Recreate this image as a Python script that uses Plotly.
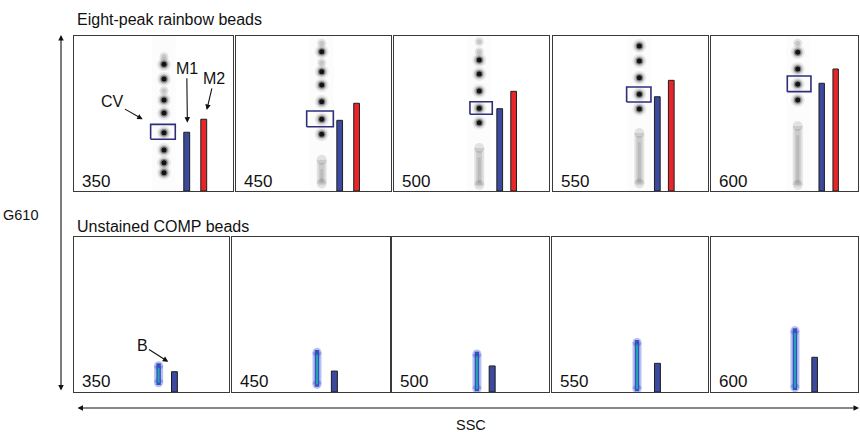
import plotly.graph_objects as go

# ---------------- data (panel-relative units: 0-100 on both axes) ----------------
panel_labels = ["350", "450", "500", "550", "600"]

# Top row: eight-peak rainbow beads
top_col_x = [56.6, 55.3, 55.0, 55.7, 59.0]
top_peaks = [
    [81.7, 72.3, 58.7, 50.3, 37.6, 26.5, 18.3, 11.8],
    [89.9, 77.0, 68.4, 57.6, 46.3, 36.6],
    [84.5, 75.5, 64.5, 53.4, 44.1],
    [93.5, 83.9, 73.1, 62.4, 52.9],
    [89.5, 78.7, 68.8, 58.7],
]
top_faint = [[86.6, 64.7], [95.3, 82.8], [96.3, 89.9], [], [95.3]]
top_smear_lo = [None, 2.8, 1.9, 2.8, 1.9]
top_smear_hi = [None, 22.1, 29.7, 39.4, 43.9]

cv_x0 = [48.2, 45.6, 49.0, 47.5, 51.9]
cv_x1 = [63.7, 62.8, 63.4, 63.2, 68.0]
cv_y0 = [33.4, 41.5, 49.5, 57.4, 64.1]
cv_y1 = [43.0, 51.6, 57.6, 67.1, 74.2]

m1_x = [70.9, 66.9, 68.2, 67.3, 75.3]
m1_val = [37.9, 45.6, 53.1, 60.8, 69.5]
m2_x = [81.6, 77.8, 77.2, 76.3, 84.8]
m2_val = [46.3, 56.6, 64.3, 71.4, 78.7]

# Bottom row: unstained COMP beads
comp_x = [54.6, 53.8, 54.1, 54.5, 57.1]
comp_lo = [4.5, 3.4, 0.5, 0.5, 1.3]
comp_hi = [18.5, 27.1, 26.0, 33.5, 41.1]
b_x = [64.8, 64.8, 63.8, 67.6, 70.5]
b_val = [13.1, 13.5, 16.8, 18.5, 22.4]

# ---------------- layout geometry (pixels) ----------------
W, H = 860, 432
top_dom = [(74, 233), (236, 391), (394, 549), (553, 708), (711, 858)]
bot_dom = [(74, 229), (232, 390), (392, 549), (552, 708), (711, 858)]
top_y = (36, 191)
bot_y = (237, 392)

FONT = "Liberation Sans, Arial, Helvetica, sans-serif"
BLUE = "#3b4a9e"
RED = "#e8262a"
NAVY = "#2e2e7c"


def px(x):
    return x / W


def py(y):
    return 1 - y / H


fig = go.Figure()
layout = {}


def add_axes(idx, xd, yd):
    sfx = "" if idx == 1 else str(idx)
    common = dict(range=[0, 100], showgrid=False, zeroline=False, showticklabels=False,
                  ticks="", showline=True, mirror=True, linecolor="#3a3a3a",
                  linewidth=1.4, fixedrange=True)
    layout["xaxis" + sfx] = dict(domain=[px(xd[0]), px(xd[1])], anchor="y" + sfx, **common)
    layout["yaxis" + sfx] = dict(domain=[py(yd[1]), py(yd[0])], anchor="x" + sfx, **common)
    return "x" + sfx, "y" + sfx


def line_trace(xa, ya, x, y, color, width):
    return go.Scatter(x=x, y=y, mode="lines", xaxis=xa, yaxis=ya,
                      line=dict(color=color, width=width), hoverinfo="skip", showlegend=False)


def dot_trace(xa, ya, x, y, color, size):
    return go.Scatter(x=x, y=y, mode="markers", xaxis=xa, yaxis=ya,
                      marker=dict(color=color, size=size, line=dict(width=0)),
                      hoverinfo="skip", showlegend=False)


annotations = []

for i in range(5):
    # ---------- top panel ----------
    xa, ya = add_axes(i + 1, top_dom[i], top_y)
    cx = top_col_x[i]
    # very faint background column
    fig.add_trace(line_trace(xa, ya, [cx, cx], [0, 100], "rgba(0,0,0,0.012)", 24))
    if top_smear_lo[i] is not None:
        lo, hi = top_smear_lo[i], top_smear_hi[i]
        fig.add_trace(line_trace(xa, ya, [cx, cx], [lo + 2, hi - 2], "rgba(0,0,0,0.10)", 10))
        fig.add_trace(dot_trace(xa, ya, [cx, cx], [lo + 2, hi - 2], "rgba(0,0,0,0.10)", 10))
        fig.add_trace(line_trace(xa, ya, [cx, cx], [lo + 1, hi - 4], "rgba(0,0,0,0.10)", 6))
        fig.add_trace(line_trace(xa, ya, [cx, cx], [lo + 3, hi - 8], "rgba(0,0,0,0.08)", 3))
    if top_faint[i]:
        fig.add_trace(dot_trace(xa, ya, [cx] * len(top_faint[i]), top_faint[i], "rgba(0,0,0,0.10)", 9))
        fig.add_trace(dot_trace(xa, ya, [cx] * len(top_faint[i]), top_faint[i], "rgba(0,0,0,0.12)", 5))
    n = len(top_peaks[i])
    for size, col in [(14, "rgba(0,0,0,0.07)"), (10.5, "rgba(0,0,0,0.14)"),
                      (7.5, "rgba(0,0,0,0.35)"), (5, "rgba(0,0,0,0.85)")]:
        fig.add_trace(dot_trace(xa, ya, [cx] * n, top_peaks[i], col, size))
    # CV box
    fig.add_trace(line_trace(xa, ya, [cv_x0[i], cv_x1[i], cv_x1[i], cv_x0[i], cv_x0[i]],
                             [cv_y0[i], cv_y0[i], cv_y1[i], cv_y1[i], cv_y0[i]], NAVY, 1.6))
    # M1 / M2 bars
    fig.add_trace(go.Bar(x=[m1_x[i]], y=[m1_val[i]], width=3.7, xaxis=xa, yaxis=ya,
                         marker=dict(color=BLUE, line=dict(color="#1e1e1e", width=1)),
                         hoverinfo="skip", showlegend=False))
    fig.add_trace(go.Bar(x=[m2_x[i]], y=[m2_val[i]], width=3.7, xaxis=xa, yaxis=ya,
                         marker=dict(color=RED, line=dict(color="#1e1e1e", width=1)),
                         hoverinfo="skip", showlegend=False))
    annotations.append(dict(x=px(top_dom[i][0] + 6), y=py(181.5), xref="paper", yref="paper",
                            text=panel_labels[i], showarrow=False, xanchor="left", yanchor="middle",
                            font=dict(size=17, color="#111", family=FONT)))

    # ---------- bottom panel ----------
    xb, yb = add_axes(i + 6, bot_dom[i], bot_y)
    bx = comp_x[i]
    lo, hi = comp_lo[i], comp_hi[i]
    fig.add_trace(line_trace(xb, yb, [bx, bx], [lo + 1.5, hi - 1.5], "rgba(70,90,215,0.38)", 9))
    fig.add_trace(dot_trace(xb, yb, [bx, bx], [lo + 1.5, hi - 1.5], "rgba(70,90,215,0.38)", 9))
    fig.add_trace(line_trace(xb, yb, [bx, bx], [lo, hi], "#3550c0", 4.5))
    fig.add_trace(line_trace(xb, yb, [bx, bx], [lo + 1.5, hi - 3], "#22a3b0", 2))
    fig.add_trace(go.Bar(x=[b_x[i]], y=[b_val[i]], width=3.8, xaxis=xb, yaxis=yb,
                         marker=dict(color=BLUE, line=dict(color="#1e1e1e", width=1)),
                         hoverinfo="skip", showlegend=False))
    annotations.append(dict(x=px(bot_dom[i][0] + 6), y=py(381.5), xref="paper", yref="paper",
                            text=panel_labels[i], showarrow=False, xanchor="left", yanchor="middle",
                            font=dict(size=17, color="#111", family=FONT)))

# callouts in the first panels
arrow_style = dict(showarrow=True, arrowhead=2, arrowsize=1, arrowwidth=1.1, arrowcolor="#111",
                   font=dict(size=16, color="#111", family=FONT), standoff=0)
annotations += [
    dict(x=43.2, y=46.3, ax=23.9, ay=57.6, xref="x", yref="y", axref="x", ayref="y", text="CV", **arrow_style),
    dict(x=71.3, y=44.1, ax=70.9, ay=79.2, xref="x", yref="y", axref="x", ayref="y", text="M1", **arrow_style),
    dict(x=83.5, y=52.3, ax=88.2, ay=72.7, xref="x", yref="y", axref="x", ayref="y", text="M2", **arrow_style),
    dict(x=60.8, y=19.5, ax=43.9, ay=30.3, xref="x6", yref="y6", axref="x6", ayref="y6", text="B", **arrow_style),
]

# row titles and axis labels
annotations += [
    dict(x=px(75), y=py(20), xref="paper", yref="paper", text="Eight-peak rainbow beads",
         showarrow=False, xanchor="left", yanchor="middle", font=dict(size=16, color="#111", family=FONT)),
    dict(x=px(75), y=py(226), xref="paper", yref="paper", text="Unstained COMP beads",
         showarrow=False, xanchor="left", yanchor="middle", font=dict(size=16, color="#111", family=FONT)),
    dict(x=px(20), y=py(215), xref="paper", yref="paper", text="G610",
         showarrow=False, xanchor="center", yanchor="middle", font=dict(size=14.5, color="#111", family=FONT)),
    dict(x=px(471), y=py(425), xref="paper", yref="paper", text="SSC",
         showarrow=False, xanchor="center", yanchor="middle", font=dict(size=14.5, color="#111", family=FONT)),
    # vertical double arrow
    dict(x=px(61), y=py(35), xref="paper", yref="paper", ax=0, ay=357, text="",
         showarrow=True, arrowhead=2, startarrowhead=2, arrowside="end+start", arrowsize=1,
         startarrowsize=1, arrowwidth=1.1, arrowcolor="#111", standoff=0, startstandoff=0),
    # horizontal double arrow
    dict(x=px(859), y=py(408), xref="paper", yref="paper", ax=-783, ay=0, text="",
         showarrow=True, arrowhead=2, startarrowhead=2, arrowside="end+start", arrowsize=1,
         startarrowsize=1, arrowwidth=1.1, arrowcolor="#111", standoff=0, startstandoff=0),
]

fig.update_layout(
    width=W, height=H, margin=dict(l=0, r=0, t=0, b=0),
    paper_bgcolor="white", plot_bgcolor="white", showlegend=False,
    barmode="overlay", annotations=annotations, font=dict(family=FONT),
    **layout,
)

fig.write_html("out.html", config={"displayModeBar": False})
